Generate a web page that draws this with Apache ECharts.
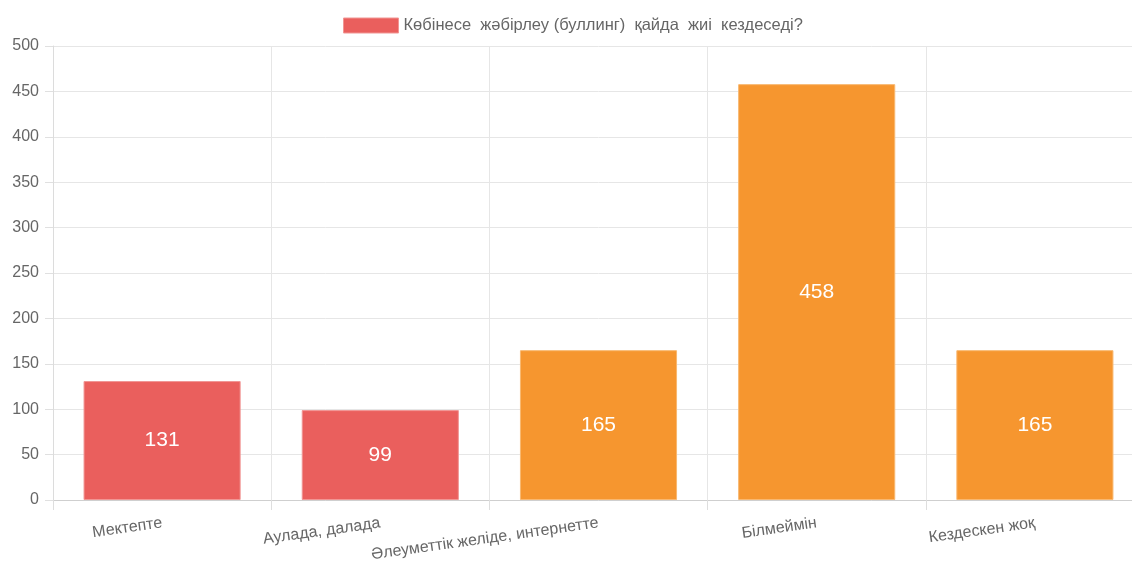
<!DOCTYPE html>
<html>
<head>
<meta charset="utf-8">
<script src="https://cdn.jsdelivr.net/npm/echarts@6/dist/echarts.min.js"></script>
<style>
  html, body { margin: 0; padding: 0; background: #fff; overflow: hidden; }
  #chart { width: 1144px; height: 567px; }
</style>
</head>
<body>
<div id="chart"></div>
<script>
  const categories = ['Мектепте', 'Аулада, далада', 'Әлеуметтік желіде, интернетте', 'Білмеймін', 'Кездескен жоқ'];
  const values = [131, 99, 165, 458, 165];
  const barColors = ['#ea5f5d', '#ea5f5d', '#f6962f', '#f6962f', '#f6962f'];
  const borderColors = ['#f19694', '#f19694', '#f9b870', '#f9b870', '#f9b870'];
  const seriesName = 'Көбінесе  жәбірлеу (буллинг)  қайда  жиі  кездеседі?';

  const chart = echarts.init(document.getElementById('chart'));

  let barData = [];
  for (let i = 0; i < values.length; i++) {
    barData.push({
      value: values[i],
      itemStyle: { color: barColors[i], borderColor: borderColors[i], borderWidth: 1 }
    });
  }

  const option = {
    animation: false,
    textStyle: { fontFamily: 'Liberation Sans, Arial, sans-serif' },
    legend: {
      top: 12,
      left: 338,
      icon: 'rect',
      itemWidth: 55,
      itemHeight: 15,
      itemGap: 10,
      textStyle: { color: '#666', fontSize: 16.5 },
      data: [{ name: seriesName, itemStyle: { color: '#ea5f5d', borderColor: '#f19694', borderWidth: 1 } }]
    },
    grid: {
      left: 53,
      right: 0,
      top: 46,
      bottom: 67,
      containLabel: false,
      outerBoundsMode: 'none'
    },
    xAxis: {
      type: 'category',
      data: categories,
      axisLine: { lineStyle: { color: '#cfcfcf' } },
      axisTick: { show: true, length: 10, lineStyle: { color: '#dedede' } },
      splitLine: { show: true, interval: 0, lineStyle: { color: '#e6e6e6' } },
      axisLabel: {
        interval: 0,
        rotate: 8,
        margin: 23,
        color: '#666',
        fontSize: 16
      }
    },
    yAxis: {
      type: 'value',
      min: 0,
      max: 500,
      interval: 50,
      axisLine: { show: true, lineStyle: { color: '#dcdcdc' } },
      axisTick: { show: true, length: 8, lineStyle: { color: '#e0e0e0' } },
      splitLine: { lineStyle: { color: '#e6e6e6' } },
      axisLabel: { color: '#666', fontSize: 16, margin: 14 }
    },
    series: [
      {
        name: seriesName,
        type: 'bar',
        barCategoryGap: '28%',
        data: barData,
        label: {
          show: true,
          position: 'inside',
          color: '#fff',
          fontSize: 21
        }
      }
    ]
  };

  chart.setOption(option);
  window.addEventListener('resize', function () {
    chart.resize();
  });
</script>
</body>
</html>
